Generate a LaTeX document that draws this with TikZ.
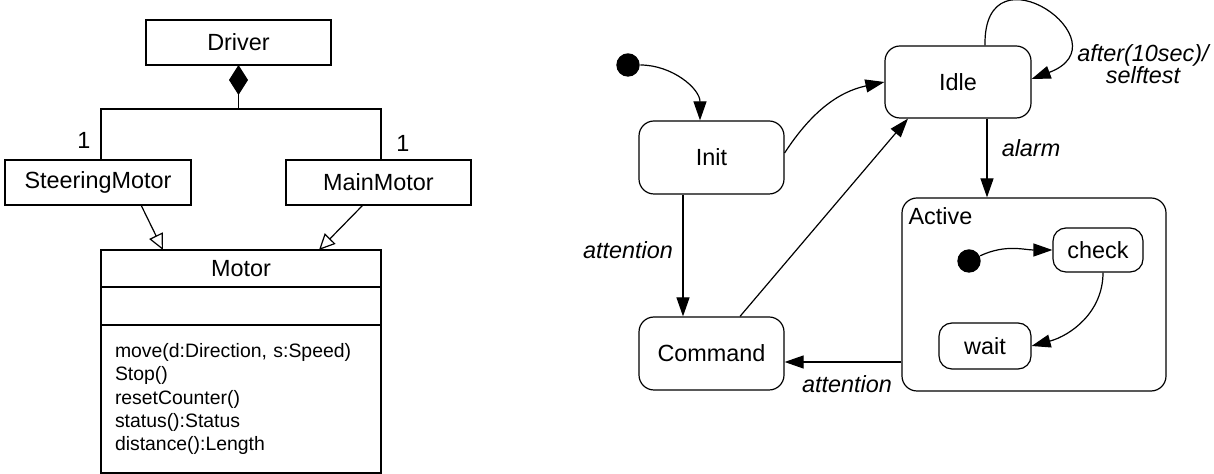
\documentclass[tikz,border=0pt]{standalone}
\usepackage{fontspec}
\setmainfont{Liberation Sans}
\usetikzlibrary{arrows.meta, positioning}

\begin{document}
\begin{tikzpicture}[
  x=0.5pt, y=0.5pt,
  font=\fontsize{11.7}{14}\selectfont,
  line width=0.6pt,
  classbox/.style={
    rectangle, draw, inner sep=0pt, outer sep=0pt,
    minimum height=22.5pt, align=center
  },
  stbox/.style={
    rectangle, draw, rounded corners=7.5pt, inner sep=0pt,
    minimum width=72.5pt, minimum height=36.5pt, align=center
  },
  initdot/.style={circle, fill=black, inner sep=0pt, minimum size=11.7pt},
  trigger/.style={font=\fontsize{11.7}{11}\selectfont\itshape, inner sep=0pt},
  trans/.style={-{Triangle[length=9.5pt, width=6.5pt]}},
  gen/.style={-{Triangle[open, length=8pt, width=7.5pt]}},
  comp/.style={-{Diamond[length=15pt, width=9.5pt]}}
]
\useasboundingbox (0,0) rectangle (1214,-474);

% Class diagram
\node[classbox, minimum width=92.5pt] (driver) at (238.5,-42.5) {Driver};
\node[classbox, minimum width=93pt] (steer) at (98,-182.5) {SteeringMotor};
\node[classbox, minimum width=92.5pt] (mainm) at (378.5,-182.5) {MainMotor};
\node[classbox, minimum width=140pt, minimum height=18.5pt] (motor) at (241,-268.5) {Motor};
\node[classbox, minimum width=140pt, minimum height=19pt, below=0pt of motor] (motorattr) {};
\node[classbox, minimum height=74pt, text width=126pt, inner xsep=7pt, align=left,
  font=\fontsize{9.7}{11.65}\selectfont, below=0pt of motorattr] (motorops)
  {move(d:Direction, s:Speed)\\Stop()\\resetCounter()\\status():Status\\distance():Length};

% Composition
\coordinate (join) at (238.5,-109);
\draw[comp] (join) -- (driver.south);
\draw ([xshift=1.5pt]steer.north) |- (join) -| ([xshift=1.25pt]mainm.north);
\node (mulsteer) at (84,-140) {1};
\node (mulmain) at (403,-143) {1};

% Generalization
\draw[gen] ([xshift=21.5pt]steer.south) -- ([xshift=-39pt]motor.north);
\draw[gen] ([xshift=-7.75pt]mainm.south) -- ([xshift=39pt]motor.north);

% State diagram
\node[initdot] (start) at (628,-65) {};
\node[stbox] (init) at (711.5,-157.5) {Init};
\node[stbox, minimum width=73pt, minimum height=36pt] (idle) at (958,-82) {Idle};
\node[stbox] (command) at (711.5,-353.5) {Command};
\node[stbox, minimum width=132pt, minimum height=96.5pt] (active) at (1034,-294.5) {};
\node[anchor=west, inner sep=0pt] (activename) at (908,-216) {Active};
\node[initdot] (substart) at (969,-261) {};
\node[stbox, rounded corners=6.5pt, minimum width=45pt, minimum height=22pt] (check) at (1098,-250) {check};
\node[stbox, rounded corners=6.5pt, minimum width=46pt, minimum height=23pt] (wait) at (985,-346) {wait};

% Transitions
\draw[trans] (start) to[out=0, in=90] ([xshift=-5.75pt]init.north);
\draw[trans] ([yshift=2.25pt]init.east) to[out=57, in=192] (idle.west);
\draw[trans] ([xshift=14.25pt]command.north) -- ([xshift=-25pt]idle.south);
\draw[trans] ([xshift=-14.25pt]init.south) -- ([xshift=-14.25pt]command.north);
\node[trigger] (attnleft) at (628,-250) {attention};
\draw[trans] ([xshift=14.5pt]idle.south) -- ([xshift=14.5pt]idle.south |- active.north);
\node[trigger] (alarmlbl) at (1031,-148) {alarm};
\draw[trans] ([xshift=13.5pt]idle.north) .. controls +(-2,104) and +(96,36) .. ([yshift=1.5pt]idle.east);
\node[trigger, align=center] (looplbl) at (1143,-64) {after(10sec)/\\selftest};
\coordinate (cmdin) at ([yshift=-4.25pt]command.east);
\draw[trans] (cmdin -| active.west) -- (cmdin);
\node[trigger] (attnbottom) at (847,-384) {attention};

% Inside Active
\draw[trans] (substart) to[out=25, in=180] (check.west);
\draw[trans] ([xshift=2.5pt]check.south) to[out=-90, in=15] (wait.east);

\end{tikzpicture}
\end{document}
